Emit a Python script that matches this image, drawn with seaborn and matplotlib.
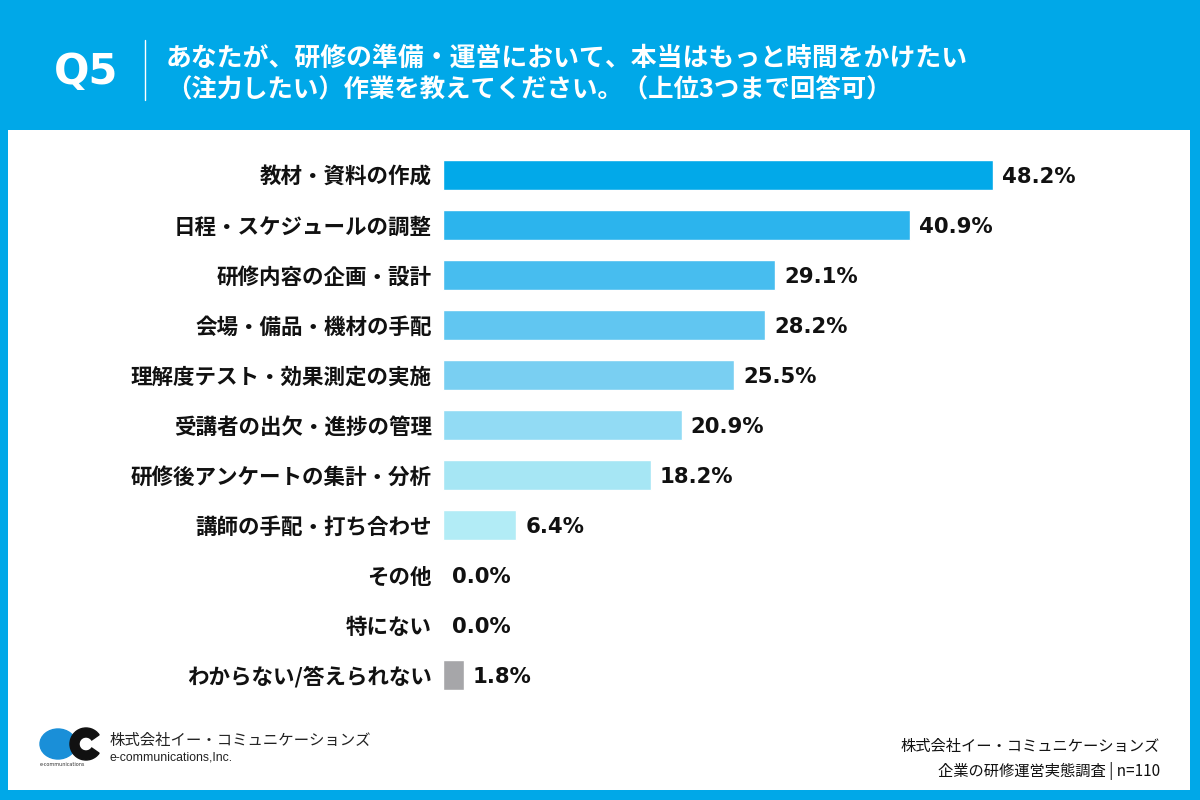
import matplotlib
matplotlib.use("Agg")
import matplotlib.pyplot as plt
from matplotlib.patches import Rectangle, Ellipse, Wedge
import pandas as pd
import seaborn as sns

# data
categories = [
    "教材・資料の作成",
    "日程・スケジュールの調整",
    "研修内容の企画・設計",
    "会場・備品・機材の手配",
    "理解度テスト・効果測定の実施",
    "受講者の出欠・進捗の管理",
    "研修後アンケートの集計・分析",
    "講師の手配・打ち合わせ",
    "その他",
    "特にない",
    "わからない/答えられない",
]
values = [48.2, 40.9, 29.1, 28.2, 25.5, 20.9, 18.2, 6.4, 0.0, 0.0, 1.8]
bar_colors = [
    "#02a9e9", "#2cb4ed", "#47bdef", "#61c6f1", "#79cff2", "#92dbf4",
    "#a6e6f4", "#b2ecf6", "#b8eef7", "#b8eef7", "#a6a6a9",
]

title_q = "Q5"
title_lines = [
    "あなたが、研修の準備・運営において、本当はもっと時間をかけたい",
    "（注力したい）作業を教えてください。（上位3つまで回答可）",
]
footer_lines = ["株式会社イー・コミュニケーションズ", "企業の研修運営実態調査 | n=110"]

BLUE = "#00a8e8"

sns.set_theme(style="white")
plt.rcParams["font.family"] = ["Noto Sans CJK JP", "DejaVu Sans"]

df = pd.DataFrame({"item": categories, "pct": values})

fig = plt.figure(figsize=(12, 8), dpi=100, facecolor=BLUE)

# white panel (behind everything)
fig.patches.append(Rectangle((8 / 1200, 10 / 800), 1182 / 1200, 660 / 800,
                             transform=fig.transFigure, facecolor="white",
                             edgecolor="none", zorder=-5))

# header
fig.text(86 / 1200, 1 - 72 / 800, title_q, color="white", fontsize=30,
         fontweight="bold", ha="center", va="center", family=["DejaVu Sans"])
fig.add_artist(plt.Line2D([145 / 1200, 145 / 1200], [1 - 40 / 800, 1 - 100 / 800],
                          transform=fig.transFigure, color="white", lw=1))
fig.text(166 / 1200, 1 - 58 / 800, title_lines[0], color="white", fontsize=18.6,
         fontweight="bold", ha="left", va="center")
fig.text(166 / 1200, 1 - 90 / 800, title_lines[1], color="white", fontsize=18.3,
         fontweight="bold", ha="left", va="center")

# chart
ax = fig.add_axes([443 / 1200, 100 / 800, 685 / 1200, 550 / 800])
ax.set_facecolor("none")
sns.barplot(data=df, x="pct", y="item", hue="item", palette=bar_colors,
            legend=False, width=0.6, ax=ax, saturation=1)
ax.set_xlim(0, 60)
ax.set_ylim(10.5, -0.5)
sns.despine(ax=ax, left=True, bottom=True)
ax.set_xticks([])
ax.set_xlabel("")
ax.set_ylabel("")
ax.tick_params(axis="y", length=0, pad=8)
for lbl in ax.get_yticklabels():
    lbl.set_fontsize(15.5)
    lbl.set_fontweight("bold")
    lbl.set_color("#111111")

for i, v in enumerate(values):
    ax.text(v + 0.8, i, f"{v:.1f}%", va="center_baseline", ha="left", fontsize=15.3,
            fontweight="bold", color="#111111", family=["DejaVu Sans"])

# logo (approximation)
logo = fig.add_axes([38 / 1200, 1 - 770 / 800, 72 / 1200, 44 / 800])
logo.set_facecolor("none")
logo.set_xlim(0, 72)
logo.set_ylim(0, 44)
logo.axis("off")
logo.add_patch(Ellipse((20, 26), 36, 30, color="#1a8fd8"))
logo.add_patch(Wedge((48, 26), 16, 35, 325, width=9, color="#111111"))
logo.text(2, 5, "e-communications", fontsize=3.5, ha="left", va="center",
          color="#333333", family=["DejaVu Sans"])
fig.text(110 / 1200, 1 - 740 / 800, footer_lines[0], fontsize=11.1,
         ha="left", va="center", color="#222222")
fig.text(110 / 1200, 1 - 758 / 800, "e-communications,Inc.", fontsize=8.8,
         ha="left", va="center", color="#222222", family=["Liberation Sans"])

# footer right
fig.text(1160 / 1200, 1 - 746 / 800, footer_lines[0], fontsize=11,
         ha="right", va="center", color="#111111")
fig.text(1160 / 1200, 1 - 771 / 800, footer_lines[1], fontsize=11,
         ha="right", va="center", color="#111111")

fig.savefig("out.png", dpi=100, facecolor=BLUE)
